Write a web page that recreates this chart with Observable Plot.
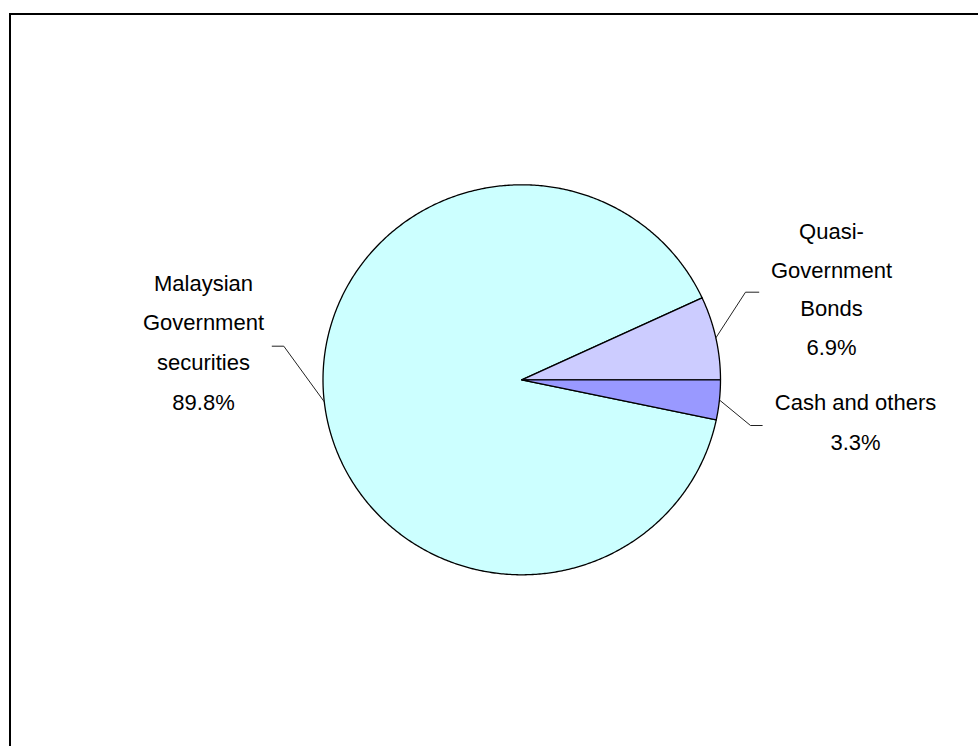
<!DOCTYPE html>
<html>
<head>
<meta charset="utf-8">
<script src="https://cdn.jsdelivr.net/npm/d3@7"></script>
<script src="https://cdn.jsdelivr.net/npm/@observablehq/plot@0.6"></script>
<style>
  html, body { margin: 0; padding: 0; background: #fff; }
  #wrap { position: relative; width: 978px; height: 746px; overflow: hidden; }
  #frame { position: absolute; left: 9px; top: 13px; right: -10px; bottom: -10px;
           border-top: 2px solid #000; border-left: 2px solid #000; pointer-events: none; }
  #chart svg { display: block; }
</style>
</head>
<body>
<div id="wrap"><div id="chart"></div><div id="frame"></div></div>
<script>
// ---- data ----
const categories = ["Malaysian Government securities", "Quasi-Government Bonds", "Cash and others"];
const shares = [89.8, 6.9, 3.3];
const labelNames = ["Malaysian\nGovernment\nsecurities", "Quasi-\nGovernment\nBonds", "Cash and others"];
const sliceColors = ["#CCFFFF", "#CCCCFF", "#9999FF"];

// ---- layout ----
const W = 978, H = 746;
const cx = 521.25, cy = 379.3, rx = 198.75, ry = 195;
const firstSliceAngle = 90 + 360 * 0.033; // degrees clockwise from 12 o'clock (Excel style)
const labelCenter = [[203, 337], [831, 284], [855, 416.7]];
const labelLineHeight = [1.8, 1.75, 1.8];
const leaderElbow = [[283.3, 345.7], [745, 291.7], [750, 425]];
const leaderEnd = [[271.7, 345.7], [758.3, 291.7], [761.7, 425]];
const ux = px => (px - cx) / rx;
const uy = py => (cy - py) / ry;

const total = d3.sum(shares);
let acc = 0;
const slices = categories.map((c, i) => {
  const a0 = firstSliceAngle + acc / total * 360;
  acc += shares[i];
  const a1 = firstSliceAngle + acc / total * 360;
  return {c, i, a0, a1, mid: (a0 + a1) / 2};
});
const pt = (deg) => {
  const r = deg * Math.PI / 180;
  return [Math.sin(r), Math.cos(r)];
};
const pieRows = [];
for (const s of slices) {
  pieRows.push({cat: s.c, x: 0, y: 0});
  const n = Math.max(2, Math.ceil((s.a1 - s.a0) / 0.5));
  for (let k = 0; k <= n; k++) {
    const [x, y] = pt(s.a0 + (s.a1 - s.a0) * k / n);
    pieRows.push({cat: s.c, x, y});
  }
  pieRows.push({cat: s.c, x: 0, y: 0});
}
const leaderRows = [];
slices.forEach((s, i) => {
  const [x, y] = pt(s.mid);
  leaderRows.push({cat: s.c, x, y});
  leaderRows.push({cat: s.c, x: ux(leaderElbow[i][0]), y: uy(leaderElbow[i][1])});
  leaderRows.push({cat: s.c, x: ux(leaderEnd[i][0]), y: uy(leaderEnd[i][1])});
});
const labelMarks = slices.map((s, i) => Plot.text([{
  text: labelNames[i] + "\n" + shares[i].toFixed(1) + "%",
  x: ux(labelCenter[i][0]),
  y: uy(labelCenter[i][1])
}], {x: "x", y: "y", text: "text", fontSize: 22, lineHeight: labelLineHeight[i], textAnchor: "middle", fill: "#000"}));

const chart = Plot.plot({
  width: W,
  height: H,
  margin: 0,
  style: {fontFamily: "'Liberation Sans', Arial, sans-serif", background: "#fff"},
  x: {domain: [-1, 1], range: [cx - rx, cx + rx], axis: null},
  y: {domain: [-1, 1], range: [cy + ry, cy - ry], axis: null},
  color: {domain: categories, range: sliceColors},
  marks: [
    Plot.line(pieRows, {x: "x", y: "y", z: "cat", fill: "cat", stroke: "#000", strokeWidth: 1.3, strokeLinejoin: "round", curve: "linear"}),
    Plot.line(leaderRows, {x: "x", y: "y", z: "cat", stroke: "#222", strokeWidth: 1}),
    ...labelMarks
  ]
});
document.getElementById("chart").appendChild(chart);
</script>
</body>
</html>
